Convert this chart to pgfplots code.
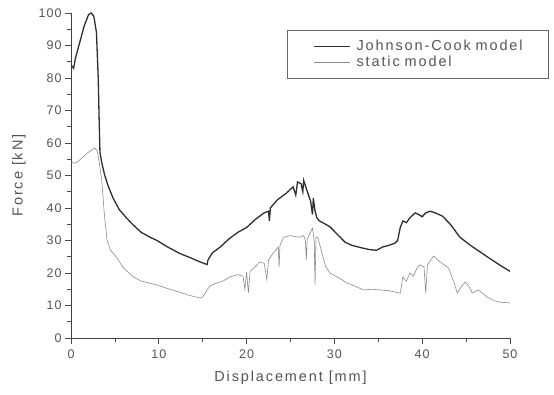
\documentclass[border=0pt]{standalone}
\usepackage{fontspec}
\setmainfont[LetterSpace=8]{Liberation Sans}
\newfontfamily\widefont[LetterSpace=13]{Liberation Sans}
\usepackage{pgfplots}
\pgfplotsset{compat=1.18}
\definecolor{txt}{HTML}{555555}
\definecolor{jc}{HTML}{2E2E2E}
\definecolor{st}{HTML}{8A8A8A}
\begin{document}
\begin{tikzpicture}
\begin{axis}[name=ax,
  scale only axis, width=439pt, height=325pt,
  xmin=0, xmax=50, ymin=0, ymax=100,
  axis lines=left, axis line style={-, color=black!75, line width=0.8pt},
  xtick={0,10,...,50}, ytick={0,10,...,100},
  minor xtick={5,15,...,45}, minor ytick={5,15,...,95},
  tick align=outside, major tick length=6pt, minor tick length=4pt,
  tick style={black!70, line width=0.7pt},
  /pgf/number format/assume math mode=true,
  tick label style={font=\fontsize{12.5}{14}\selectfont, text=txt},
  xticklabel style={yshift=-2pt},
  xlabel={Displacement [mm]}, ylabel={Force [kN]},
  label style={font=\widefont\fontsize{14.5}{16}\selectfont, text=txt},
  xlabel style={yshift=-6pt},
  ylabel style={yshift=6pt},
  legend style={at={(0.492,0.948)}, anchor=north west, draw=black!60, line width=0.6pt,
    font=\widefont\fontsize{14.5}{16}\selectfont, text=txt, inner xsep=4pt, inner ysep=8pt,
    nodes={text width=186pt, align=left}, row sep=0pt},
  legend cell align=left,
  legend image code/.code={\path (0pt,0pt) (62pt,0pt); \draw[#1] (22pt,0pt) -- (58pt,0pt);},
]
\addplot[jc, line width=1.3pt] coordinates {
(0,84) (0.3,83) (0.5,86) (1,91) (1.5,96) (2,99.5) (2.3,100) (2.6,99) (2.9,94) (3.1,80) (3.2,68) (3.3,57) (3.5,54) (3.8,50.5) (4.2,47) (4.8,43) (5.5,39.5) (6.3,37) (7,35) (8,32.5) (9,31) (9.8,30) (11,28) (12.4,26) (13.5,24.8) (14.7,23.4) (15.5,22.6) (15.6,24) (16.1,26.2) (17,28) (18,30.5) (19,32.5) (20,34) (21,36.5) (22,38.5) (22.5,39) (22.6,36) (22.7,40) (23.5,42.5) (24.5,44.5) (25.3,46.5) (25.6,44) (25.8,48) (26.2,47.5) (26.4,45) (26.5,48.5) (26.8,46) (27.3,42) (27.5,38) (27.6,43) (27.8,39) (28,37) (28.3,36) (29,35) (29.5,34.2) (30.3,32) (31.2,29.5) (32,28.5) (33,27.8) (34,27.2) (34.8,27) (35.5,28) (36.2,28.5) (36.9,29.2) (37.2,30) (37.5,34) (37.8,36) (38.2,35.5) (38.6,37) (39.2,38.5) (39.6,38) (40,37.3) (40.4,38.5) (40.9,39) (41.5,38.5) (42.3,37.5) (43.2,35) (44.3,31) (45.5,28.5) (47.4,25) (48.8,22.5) (50,20.5)
};
\addlegendentry{Johnson-Cook model}
\addplot[st, line width=0.6pt] coordinates {
(0,54) (0.5,53.8) (1,54.8) (1.5,56) (2,57.2) (2.7,58.5) (3,57.5) (3.3,52.6) (3.5,48.6) (3.8,38) (4.1,30.2) (4.5,27) (5,25.5) (6,21.5) (7.1,18.8) (8,17.5) (9.8,16.3) (11,15.2) (12.4,14.1) (13.5,13.1) (14.7,12.3) (15,12.6) (15.8,16) (16.5,16.8) (17.3,17.5) (18.1,18.8) (19,19.5) (19.6,19) (19.8,15) (20,20.3) (20.2,13.8) (20.4,20.5) (21,22) (21.5,23.4) (22,23) (22.3,18) (22.5,24) (23,26) (23.6,28) (23.7,21.8) (23.8,28.5) (24.2,31) (25,31.5) (26,31) (26.5,31.5) (26.7,30) (26.8,24) (26.9,30.5) (27.5,33.8) (27.7,30) (27.8,16.3) (27.9,31) (28.1,31) (28.4,28) (28.7,25) (29,22) (29.5,20) (30.5,18.5) (31.4,17) (32.3,16) (33.3,14.8) (34.2,15) (35.2,14.8) (36.3,14.5) (37.5,13.8) (37.8,18.8) (38.2,17.5) (38.6,20) (39,19) (39.4,21.5) (39.7,22.5) (40.2,22) (40.4,13.8) (40.6,22.5) (41.3,25.2) (42,23.5) (43,21.5) (43.5,18) (44,13.8) (44.5,16) (44.9,17.2) (45.3,16) (45.7,13.8) (46.4,14.8) (47,13.5) (47.4,12.6) (48.2,11.5) (48.9,11) (50,10.8)
};
\addlegendentry{static model}
\end{axis}
\path ([shift={(-71pt,-57pt)}]ax.south west) rectangle ([shift={(44pt,13pt)}]ax.north east);
\end{tikzpicture}
\end{document}
